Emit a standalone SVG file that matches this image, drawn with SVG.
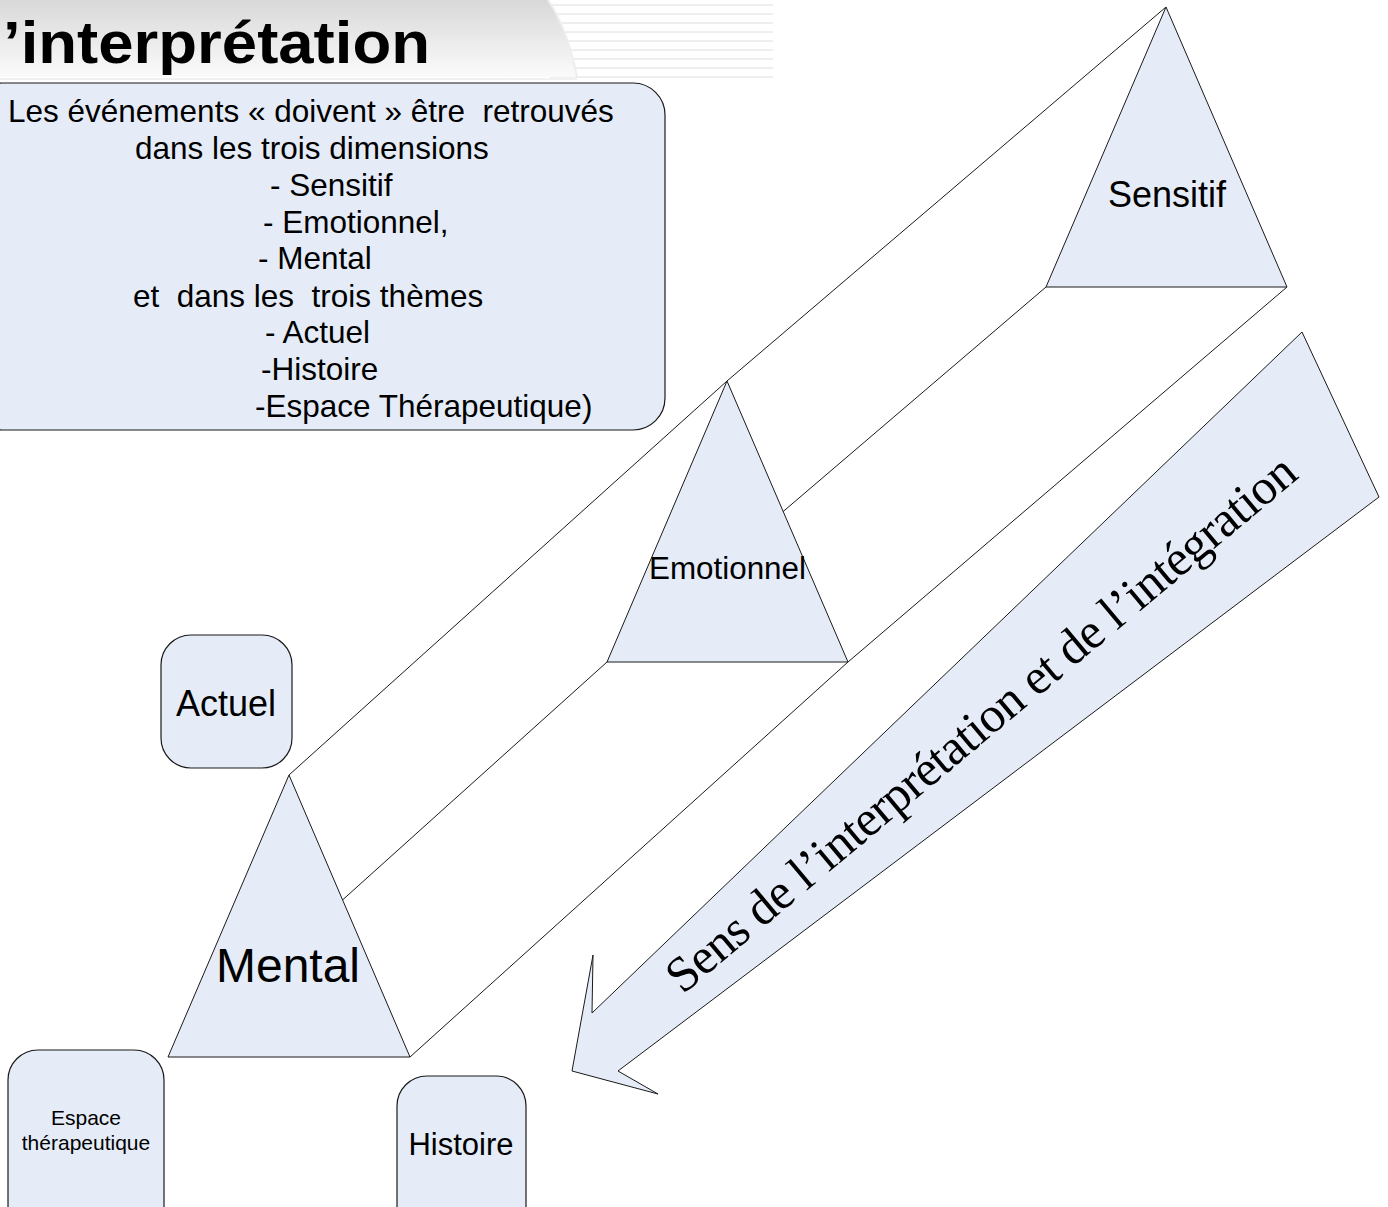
<svg xmlns="http://www.w3.org/2000/svg" width="1388" height="1207" viewBox="0 0 1388 1207">
<defs>
<linearGradient id="hdr" x1="0" y1="0" x2="0" y2="1">
<stop offset="0" stop-color="#d8d8d8"/>
<stop offset="1" stop-color="#fbfbfb"/>
</linearGradient>
<style>
.shape{fill:#e5ecf7;stroke:#1a1a1a;stroke-width:1.2}
.tri{fill:#e5ecf7;stroke:#1a1a1a;stroke-width:1}
.con{stroke:#1a1a1a;stroke-width:1;fill:none}
.sans{font-family:"Liberation Sans",Arial,sans-serif;fill:#000}
.serif{font-family:"Liberation Serif","Times New Roman",serif;fill:#000}
.stripe{stroke:#dedede;stroke-width:1}
.pre{white-space:pre}
</style>
</defs>
<rect width="1388" height="1207" fill="#ffffff"/>
<g id="header">
<g>
<line class="stripe" x1="550" y1="5" x2="773" y2="5"/>
<line class="stripe" x1="550" y1="14" x2="773" y2="14"/>
<line class="stripe" x1="550" y1="23" x2="773" y2="23"/>
<line class="stripe" x1="550" y1="32" x2="773" y2="32"/>
<line class="stripe" x1="550" y1="41" x2="773" y2="41"/>
<line class="stripe" x1="550" y1="50" x2="773" y2="50"/>
<line class="stripe" x1="550" y1="59" x2="773" y2="59"/>
<line class="stripe" x1="550" y1="68" x2="773" y2="68"/>
<line class="stripe" x1="550" y1="77" x2="773" y2="77"/>
</g>
<path d="M0,0 H548 Q568,30 577,77 H0 Z" fill="url(#hdr)"/>
<path d="M548,0 Q568,30 577,77" fill="none" stroke="#eeeeee" stroke-width="2"/>
<line x1="0" y1="79" x2="577" y2="79" stroke="#e4e4e4" stroke-width="1"/>
<text class="sans" x="3" y="63" font-size="60" font-weight="bold" textLength="427" lengthAdjust="spacingAndGlyphs">’interprétation</text>
</g>
<g id="connectors">
<line class="con" x1="289" y1="775" x2="727" y2="381"/>
<line class="con" x1="727" y1="381" x2="1166" y2="7"/>
<line class="con" x1="168" y1="1057" x2="607" y2="662"/>
<line class="con" x1="607" y1="662" x2="1046" y2="287"/>
<line class="con" x1="410" y1="1057" x2="848" y2="662"/>
<line class="con" x1="848" y1="662" x2="1287" y2="287"/>
</g>
<g id="info-box">
<rect class="shape" x="-30" y="83" width="695" height="347" rx="32"/>
<g class="sans" font-size="31.5">
<text class="pre" x="8" y="122" xml:space="preserve">Les événements « doivent » être  retrouvés</text>
<text x="135" y="159">dans les trois dimensions</text>
<text x="270" y="196">- Sensitif</text>
<text x="263" y="233">- Emotionnel,</text>
<text x="258" y="269">- Mental</text>
<text class="pre" x="133" y="307" xml:space="preserve">et  dans les  trois thèmes</text>
<text x="265" y="343">- Actuel</text>
<text x="261" y="380">-Histoire</text>
<text x="255" y="417">-Espace Thérapeutique)</text>
</g>
</g>
<g id="sensitif">
<polygon class="tri" points="1166,7 1287,287 1046,287"/>
<text class="sans" x="1167" y="207" font-size="36" text-anchor="middle">Sensitif</text>
</g>
<g id="emotionnel">
<polygon class="tri" points="727,381 848,662 607,662"/>
<text class="sans" x="649" y="579" font-size="31" textLength="157" lengthAdjust="spacingAndGlyphs">Emotionnel</text>
</g>
<g id="mental">
<polygon class="tri" points="289,775 410,1057 168,1057"/>
<text class="sans" x="288" y="982" font-size="48" text-anchor="middle">Mental</text>
</g>
<g id="actuel">
<rect class="shape" x="161" y="635" width="131" height="133" rx="30"/>
<text class="sans" x="226" y="716" font-size="36" text-anchor="middle">Actuel</text>
</g>
<g id="espace">
<rect class="shape" x="8" y="1050" width="156" height="190" rx="30"/>
<text class="sans" x="86" y="1125" font-size="21" text-anchor="middle">Espace</text>
<text class="sans" x="86" y="1150" font-size="21" text-anchor="middle">thérapeutique</text>
</g>
<g id="histoire">
<rect class="shape" x="397" y="1076" width="129" height="170" rx="30"/>
<text class="sans" x="461" y="1155" font-size="31" text-anchor="middle">Histoire</text>
</g>
<g id="arrow">
<polygon class="tri" points="1302,332 1379,497 618,1071 658,1094 572,1071 593,955 592,1013"/>
<text class="serif" x="0" y="13" font-size="50" text-anchor="middle" textLength="806" transform="translate(983,726) rotate(-40)">Sens de l’interprétation et de l’intégration</text>
</g>
</svg>
